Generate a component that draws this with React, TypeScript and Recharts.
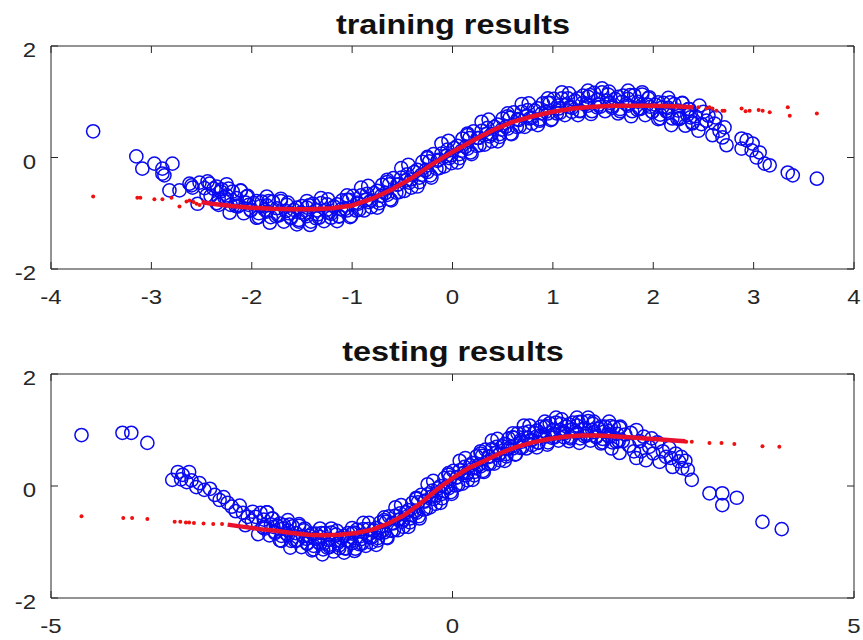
import React from 'react';
import { ScatterChart, Scatter, XAxis, YAxis } from 'recharts';

type Pt = [number, number];

const trainXTicks = [-4, -3, -2, -1, 0, 1, 2, 3, 4];
const testXTicks = [-5, 0, 5];
const yTicks = [-2, 0, 2];

const trainTitle = 'training results';
const testTitle = 'testing results';

// training: observed samples (blue rings), dense band
const trainObservedBand: Pt[] = [
  [-2.44,-0.43],[-2.41,-0.69],[-2.38,-0.56],[-2.35,-0.82],
  [-2.33,-0.85],[-2.30,-0.57],[-2.27,-0.72],[-2.25,-0.48],
  [-2.25,-0.68],[-2.22,-0.99],[-2.19,-0.61],[-2.16,-0.87],
  [-2.14,-0.88],[-2.11,-0.59],[-2.08,-1.00],[-2.06,-0.81],
  [-2.04,-0.69],[-2.01,-0.95],[-1.98,-0.82],[-1.95,-1.08],
  [-1.93,-1.07],[-1.90,-0.79],[-1.87,-0.94],[-1.85,-0.70],
  [-1.85,-0.86],[-1.82,-1.17],[-1.79,-0.79],[-1.76,-1.05],
  [-1.74,-1.03],[-1.71,-0.74],[-1.68,-1.15],[-1.66,-0.96],
  [-1.64,-0.81],[-1.61,-1.07],[-1.58,-0.94],[-1.55,-1.20],
  [-1.53,-1.15],[-1.50,-0.87],[-1.47,-1.02],[-1.45,-0.78],
  [-1.45,-0.90],[-1.42,-1.21],[-1.39,-0.83],[-1.36,-1.09],
  [-1.34,-1.02],[-1.31,-0.73],[-1.28,-1.14],[-1.26,-0.95],
  [-1.24,-0.75],[-1.21,-1.01],[-1.18,-0.88],[-1.15,-1.14],
  [-1.13,-1.05],[-1.10,-0.77],[-1.07,-0.92],[-1.05,-0.68],
  [-1.05,-0.76],[-1.02,-1.07],[-0.99,-0.69],[-0.96,-0.95],
  [-0.94,-0.83],[-0.91,-0.54],[-0.88,-0.95],[-0.86,-0.76],
  [-0.84,-0.51],[-0.81,-0.77],[-0.78,-0.64],[-0.75,-0.90],
  [-0.73,-0.77],[-0.70,-0.49],[-0.67,-0.64],[-0.65,-0.40],
  [-0.65,-0.44],[-0.62,-0.75],[-0.59,-0.37],[-0.56,-0.63],
  [-0.54,-0.48],[-0.51,-0.19],[-0.48,-0.60],[-0.46,-0.41],
  [-0.44,-0.13],[-0.41,-0.39],[-0.38,-0.26],[-0.35,-0.52],
  [-0.33,-0.36],[-0.30,-0.08],[-0.27,-0.23],[-0.25,0.01],
  [-0.25,-0.01],[-0.22,-0.32],[-0.19,0.06],[-0.16,-0.20],
  [-0.14,-0.04],[-0.11,0.25],[-0.08,-0.16],[-0.06,0.03],
  [-0.04,0.30],[-0.01,0.04],[0.02,0.17],[0.05,-0.09],
  [0.07,0.06],[0.10,0.34],[0.13,0.19],[0.15,0.43],
  [0.15,0.40],[0.18,0.09],[0.21,0.47],[0.24,0.21],
  [0.26,0.35],[0.29,0.64],[0.32,0.23],[0.34,0.42],
  [0.36,0.68],[0.39,0.42],[0.42,0.55],[0.45,0.29],
  [0.47,0.42],[0.50,0.70],[0.53,0.55],[0.55,0.79],
  [0.55,0.74],[0.58,0.43],[0.61,0.81],[0.64,0.55],
  [0.66,0.67],[0.69,0.96],[0.72,0.55],[0.74,0.74],
  [0.76,0.97],[0.79,0.71],[0.82,0.84],[0.85,0.58],
  [0.87,0.69],[0.90,0.97],[0.93,0.82],[0.95,1.06],
  [0.95,0.98],[0.98,0.67],[1.01,1.05],[1.04,0.79],
  [1.06,0.88],[1.09,1.17],[1.12,0.76],[1.14,0.95],
  [1.16,1.15],[1.19,0.89],[1.22,1.02],[1.25,0.76],
  [1.27,0.83],[1.30,1.11],[1.33,0.96],[1.35,1.20],
  [1.35,1.09],[1.38,0.78],[1.41,1.16],[1.44,0.90],
  [1.46,0.95],[1.49,1.24],[1.52,0.83],[1.54,1.02],
  [1.56,1.18],[1.59,0.92],[1.62,1.05],[1.65,0.79],
  [1.67,0.83],[1.70,1.11],[1.73,0.96],[1.75,1.20],
  [1.75,1.05],[1.78,0.74],[1.81,1.12],[1.84,0.86],
  [1.86,0.88],[1.89,1.17],[1.92,0.76],[1.94,0.95],
  [1.96,1.08],[1.99,0.82],[2.02,0.95],[2.05,0.69],
  [2.07,0.70],[2.10,0.98],[2.13,0.83],[2.15,1.07],
  [2.15,0.89],[2.18,0.58],[2.21,0.96],[2.24,0.70],
  [2.26,0.69],[2.29,0.98],[2.32,0.57],[2.34,0.76],
  [2.36,0.87],[2.39,0.61],[2.42,0.74],[2.45,0.48],
];

// training: more observed samples inside the band
const trainObservedCore: Pt[] = [
  [-2.35,-0.52],[-2.33,-0.74],[-2.31,-0.61],[-2.25,-0.75],[-2.23,-0.56],[-2.21,-0.85],
  [-2.15,-0.73],[-2.13,-0.86],[-2.11,-0.60],[-2.05,-0.70],[-2.03,-0.85],[-2.01,-0.94],
  [-1.95,-0.78],[-1.93,-1.00],[-1.91,-0.87],[-1.85,-0.97],[-1.83,-0.78],[-1.81,-1.07],
  [-1.75,-0.91],[-1.73,-1.04],[-1.71,-0.78],[-1.65,-0.85],[-1.63,-1.00],[-1.61,-1.09],
  [-1.55,-0.90],[-1.53,-1.12],[-1.51,-0.99],[-1.45,-1.05],[-1.43,-0.86],[-1.41,-1.15],
  [-1.35,-0.95],[-1.33,-1.08],[-1.31,-0.82],[-1.25,-0.84],[-1.23,-0.99],[-1.21,-1.08],
  [-1.15,-0.84],[-1.13,-1.06],[-1.11,-0.93],[-1.05,-0.95],[-1.03,-0.76],[-1.01,-1.05],
  [-0.95,-0.81],[-0.93,-0.94],[-0.91,-0.68],[-0.85,-0.65],[-0.83,-0.80],[-0.81,-0.89],
  [-0.75,-0.60],[-0.73,-0.82],[-0.71,-0.69],[-0.65,-0.67],[-0.63,-0.48],[-0.61,-0.77],
  [-0.55,-0.49],[-0.53,-0.62],[-0.51,-0.36],[-0.45,-0.30],[-0.43,-0.45],[-0.41,-0.54],
  [-0.35,-0.22],[-0.33,-0.44],[-0.31,-0.31],[-0.25,-0.26],[-0.23,-0.07],[-0.21,-0.36],
  [-0.15,-0.06],[-0.13,-0.19],[-0.11,0.07],[-0.05,0.14],[-0.03,-0.01],[-0.01,-0.10],
  [0.05,0.21],[0.07,-0.01],[0.09,0.12],[0.15,0.16],[0.17,0.35],[0.19,0.06],
  [0.25,0.35],[0.27,0.22],[0.29,0.48],[0.35,0.53],[0.37,0.38],[0.39,0.29],
  [0.45,0.59],[0.47,0.37],[0.49,0.50],[0.55,0.52],[0.57,0.71],[0.59,0.42],
  [0.65,0.69],[0.67,0.56],[0.69,0.82],[0.75,0.85],[0.77,0.70],[0.79,0.61],
  [0.85,0.88],[0.87,0.66],[0.89,0.79],[0.95,0.79],[0.97,0.98],[0.99,0.69],
  [1.05,0.93],[1.07,0.80],[1.09,1.06],[1.15,1.06],[1.17,0.91],[1.19,0.82],
  [1.25,1.06],[1.27,0.84],[1.29,0.97],[1.35,0.93],[1.37,1.12],[1.39,0.83],
  [1.45,1.04],[1.47,0.91],[1.49,1.17],[1.55,1.13],[1.57,0.98],[1.59,0.89],
  [1.65,1.09],[1.67,0.87],[1.69,1.00],[1.75,0.93],[1.77,1.12],[1.79,0.83],
  [1.85,1.00],[1.87,0.87],[1.89,1.13],[1.95,1.06],[1.97,0.91],[1.99,0.82],
  [2.05,0.99],[2.07,0.77],[2.09,0.90],[2.15,0.80],[2.17,0.99],[2.19,0.70],
  [2.25,0.84],[2.27,0.71],[2.29,0.97],[2.35,0.87],[2.37,0.72],[2.39,0.63],
];

// training: observed samples at both ends
const trainObservedTails: Pt[] = [
  [-3.58,0.47],[-3.15,0.02],[-3.09,-0.20],[-2.97,-0.11],[-2.89,-0.20],[-2.89,-0.29],
  [-2.79,-0.11],[-2.87,-0.32],[-2.82,-0.59],[-2.72,-0.59],[-2.62,-0.47],[-2.59,-0.54],
  [-2.52,-0.45],[-2.42,-0.47],[-2.54,-0.83],[-2.60,-0.50],[-2.47,-0.55],[-2.45,-0.68],
  [2.46,0.93],[2.53,0.66],[2.61,0.61],[2.71,0.54],[2.59,0.40],[2.69,0.36],[2.73,0.22],
  [2.88,0.34],[2.93,0.31],[2.99,0.25],[2.98,0.13],[3.06,0.09],[3.11,-0.11],[3.16,-0.14],
  [3.34,-0.27],[3.39,-0.32],[3.63,-0.38],[2.88,0.16],[3.03,0.00],[2.50,0.82],[2.55,0.75],
  [2.48,0.60],[2.62,0.72],[2.66,0.48],
];

// training: network output, dense part and isolated dots
const trainPredictedCurve: Pt[] = [
  [-2.5,-0.80],[-2.4,-0.83],[-2.2,-0.87],[-2.0,-0.90],[-1.8,-0.92],[-1.6,-0.93],
  [-1.4,-0.93],[-1.2,-0.91],[-1.0,-0.86],[-0.8,-0.74],[-0.6,-0.57],[-0.4,-0.36],
  [-0.2,-0.12],[0.0,0.10],[0.2,0.30],[0.4,0.49],[0.6,0.64],[0.8,0.74],[1.0,0.82],
  [1.2,0.88],[1.4,0.91],[1.6,0.93],[1.8,0.93],[2.0,0.93],[2.2,0.92],[2.4,0.90],
];
const trainPredictedDots: Pt[] = [
  [-3.58,-0.70],[-3.14,-0.72],[-3.11,-0.72],[-2.97,-0.75],[-2.89,-0.75],[-2.80,-0.72],
  [-2.72,-0.88],[-2.65,-0.79],[-2.62,-0.77],[-2.58,-0.80],[-2.55,-0.83],[-2.52,-0.85],
  [2.45,0.90],[2.53,0.88],[2.56,0.90],[2.59,0.88],[2.63,0.84],[2.69,0.84],[2.71,0.84],
  [2.88,0.88],[2.92,0.83],[2.96,0.84],[3.05,0.85],[3.09,0.84],[3.16,0.81],[3.34,0.90],
  [3.36,0.75],[3.63,0.79],
];

// testing: observed samples, dense band
const testObservedBand: Pt[] = [
  [-2.45,-0.55],[-2.42,-0.86],[-2.39,-0.48],[-2.36,-0.74],
  [-2.34,-0.76],[-2.31,-0.47],[-2.28,-0.88],[-2.26,-0.69],
  [-2.24,-0.58],[-2.21,-0.84],[-2.18,-0.71],[-2.15,-0.97],
  [-2.13,-0.98],[-2.10,-0.70],[-2.07,-0.85],[-2.05,-0.61],
  [-2.05,-0.79],[-2.02,-1.10],[-1.99,-0.72],[-1.96,-0.98],
  [-1.94,-0.97],[-1.91,-0.68],[-1.88,-1.09],[-1.86,-0.90],
  [-1.84,-0.76],[-1.81,-1.02],[-1.78,-0.89],[-1.75,-1.15],
  [-1.73,-1.13],[-1.70,-0.85],[-1.67,-1.00],[-1.65,-0.76],
  [-1.65,-0.91],[-1.62,-1.22],[-1.59,-0.84],[-1.56,-1.10],
  [-1.54,-1.05],[-1.51,-0.76],[-1.48,-1.17],[-1.46,-0.98],
  [-1.44,-0.80],[-1.41,-1.06],[-1.38,-0.93],[-1.35,-1.19],
  [-1.33,-1.12],[-1.30,-0.84],[-1.27,-0.99],[-1.25,-0.75],
  [-1.25,-0.85],[-1.22,-1.16],[-1.19,-0.78],[-1.16,-1.04],
  [-1.14,-0.95],[-1.11,-0.66],[-1.08,-1.07],[-1.06,-0.88],
  [-1.04,-0.66],[-1.01,-0.92],[-0.98,-0.79],[-0.95,-1.05],
  [-0.93,-0.93],[-0.90,-0.65],[-0.87,-0.80],[-0.85,-0.56],
  [-0.85,-0.61],[-0.82,-0.92],[-0.79,-0.54],[-0.76,-0.80],
  [-0.74,-0.67],[-0.71,-0.38],[-0.68,-0.79],[-0.66,-0.60],
  [-0.64,-0.34],[-0.61,-0.60],[-0.58,-0.47],[-0.55,-0.73],
  [-0.53,-0.58],[-0.50,-0.30],[-0.47,-0.45],[-0.45,-0.21],
  [-0.45,-0.23],[-0.42,-0.54],[-0.39,-0.16],[-0.36,-0.42],
  [-0.34,-0.26],[-0.31,0.03],[-0.28,-0.38],[-0.26,-0.19],
  [-0.24,0.09],[-0.21,-0.17],[-0.18,-0.04],[-0.15,-0.30],
  [-0.13,-0.14],[-0.10,0.14],[-0.07,-0.01],[-0.05,0.23],
  [-0.05,0.20],[-0.02,-0.11],[0.01,0.27],[0.04,0.01],
  [0.06,0.16],[0.09,0.45],[0.12,0.04],[0.14,0.23],
  [0.16,0.50],[0.19,0.24],[0.22,0.37],[0.25,0.11],
  [0.27,0.25],[0.30,0.53],[0.33,0.38],[0.35,0.62],
  [0.35,0.58],[0.38,0.27],[0.41,0.65],[0.44,0.39],
  [0.46,0.52],[0.49,0.81],[0.52,0.40],[0.54,0.59],
  [0.56,0.84],[0.59,0.58],[0.62,0.71],[0.65,0.45],
  [0.67,0.57],[0.70,0.85],[0.73,0.70],[0.75,0.94],
  [0.75,0.87],[0.78,0.56],[0.81,0.94],[0.84,0.68],
  [0.86,0.79],[0.89,1.08],[0.92,0.67],[0.94,0.86],
  [0.96,1.08],[0.99,0.82],[1.02,0.95],[1.05,0.69],
  [1.07,0.78],[1.10,1.06],[1.13,0.91],[1.15,1.15],
  [1.15,1.05],[1.18,0.74],[1.21,1.12],[1.24,0.86],
  [1.26,0.93],[1.29,1.22],[1.32,0.81],[1.34,1.00],
  [1.36,1.19],[1.39,0.93],[1.42,1.06],[1.45,0.80],
  [1.47,0.85],[1.50,1.13],[1.53,0.98],[1.55,1.22],
  [1.55,1.08],[1.58,0.77],[1.61,1.15],[1.64,0.89],
  [1.66,0.93],[1.69,1.22],[1.72,0.81],[1.74,1.00],
  [1.76,1.15],[1.79,0.89],[1.82,1.02],[1.85,0.76],
  [1.87,0.78],[1.90,1.06],[1.93,0.91],[1.95,1.15],
  [1.95,0.98],[1.98,0.67],[2.01,1.05],[2.04,0.79],
];

// testing: more observed samples inside the band
const testObservedCore: Pt[] = [
  [-2.35,-0.60],[-2.33,-0.73],[-2.31,-0.47],[-2.25,-0.58],[-2.23,-0.73],[-2.21,-0.82],
  [-2.15,-0.67],[-2.13,-0.89],[-2.11,-0.76],[-2.05,-0.88],[-2.03,-0.69],[-2.01,-0.98],
  [-1.95,-0.84],[-1.93,-0.97],[-1.91,-0.71],[-1.85,-0.79],[-1.83,-0.94],[-1.81,-1.03],
  [-1.75,-0.85],[-1.73,-1.07],[-1.71,-0.94],[-1.65,-1.03],[-1.63,-0.84],[-1.61,-1.13],
  [-1.55,-0.96],[-1.53,-1.09],[-1.51,-0.83],[-1.45,-0.87],[-1.43,-1.02],[-1.41,-1.11],
  [-1.35,-0.89],[-1.33,-1.11],[-1.31,-0.98],[-1.25,-1.02],[-1.23,-0.83],[-1.21,-1.12],
  [-1.15,-0.90],[-1.13,-1.03],[-1.11,-0.77],[-1.05,-0.77],[-1.03,-0.92],[-1.01,-1.01],
  [-0.95,-0.75],[-0.93,-0.97],[-0.91,-0.84],[-0.85,-0.83],[-0.83,-0.64],[-0.81,-0.93],
  [-0.75,-0.66],[-0.73,-0.79],[-0.71,-0.53],[-0.65,-0.49],[-0.63,-0.64],[-0.61,-0.73],
  [-0.55,-0.43],[-0.53,-0.65],[-0.51,-0.52],[-0.45,-0.48],[-0.43,-0.29],[-0.41,-0.58],
  [-0.35,-0.28],[-0.33,-0.41],[-0.31,-0.15],[-0.25,-0.08],[-0.23,-0.23],[-0.21,-0.32],
  [-0.15,0.00],[-0.13,-0.22],[-0.11,-0.09],[-0.05,-0.04],[-0.03,0.15],[-0.01,-0.14],
  [0.05,0.15],[0.07,0.02],[0.09,0.28],[0.15,0.34],[0.17,0.19],[0.19,0.10],
  [0.25,0.41],[0.27,0.19],[0.29,0.32],[0.35,0.35],[0.37,0.54],[0.39,0.25],
  [0.45,0.53],[0.47,0.40],[0.49,0.66],[0.55,0.70],[0.57,0.55],[0.59,0.46],
  [0.65,0.75],[0.67,0.53],[0.69,0.66],[0.75,0.67],[0.77,0.86],[0.79,0.57],
  [0.85,0.82],[0.87,0.69],[0.89,0.95],[0.95,0.97],[0.97,0.82],[0.99,0.73],
  [1.05,0.99],[1.07,0.77],[1.09,0.90],[1.15,0.88],[1.17,1.07],[1.19,0.78],
  [1.25,1.00],[1.27,0.87],[1.29,1.13],[1.35,1.11],[1.37,0.96],[1.39,0.87],
  [1.45,1.10],[1.47,0.88],[1.49,1.01],[1.55,0.95],[1.57,1.14],[1.59,0.85],
  [1.65,1.03],[1.67,0.90],[1.69,1.16],[1.75,1.11],[1.77,0.96],[1.79,0.87],
  [1.85,1.06],[1.87,0.84],[1.89,0.97],[1.95,0.88],[1.97,1.07],[1.99,0.78],
  [2.05,0.93],[2.07,0.80],[2.09,1.06],
];

// testing: observed samples at both ends
const testObservedTails: Pt[] = [
  [-4.62,0.91],[-4.11,0.95],[-4.00,0.95],[-3.80,0.77],[-3.49,0.11],[-3.42,0.25],[-3.38,0.12],
  [-3.36,0.20],[-3.31,0.07],[-3.28,0.25],[-3.25,0.10],[-3.19,-0.02],[-3.15,0.05],[-3.09,-0.07],
  [-3.02,-0.05],[-2.96,-0.16],[-2.90,-0.25],[-2.85,-0.20],[-2.80,-0.30],[-2.75,-0.37],
  [-2.70,-0.45],[-2.65,-0.35],[-2.61,-0.48],[-2.58,-0.70],[-2.55,-0.55],[-2.50,-0.62],[-2.49,-0.46],
  [2.08,0.59],[2.08,1.04],[2.12,0.80],[2.15,0.92],[2.20,0.72],[2.22,0.95],[2.26,0.62],[2.29,0.50],
  [2.29,1.00],[2.33,0.80],[2.35,0.62],[2.38,0.88],[2.41,0.46],[2.45,0.70],[2.48,0.85],[2.50,0.58],
  [2.55,0.78],[2.58,0.43],[2.62,0.62],[2.66,0.52],[2.70,0.68],[2.72,0.50],[2.74,0.34],[2.78,0.58],
  [2.82,0.44],[2.85,0.52],[2.86,0.32],[2.90,0.45],[2.93,0.29],[2.98,0.11],[3.20,-0.13],[3.36,-0.13],
  [3.54,-0.21],[3.36,-0.34],[3.86,-0.64],[4.10,-0.77],
];

// testing: network output
const testPredictedCurve: Pt[] = [
  [-2.8,-0.69],[-2.6,-0.73],[-2.4,-0.77],[-2.2,-0.80],[-2.0,-0.84],[-1.8,-0.87],[-1.6,-0.88],
  [-1.4,-0.87],[-1.2,-0.84],[-1.0,-0.78],[-0.8,-0.67],[-0.6,-0.52],[-0.4,-0.31],[-0.2,-0.07],
  [0.0,0.14],[0.2,0.32],[0.4,0.45],[0.6,0.59],[0.8,0.70],[1.0,0.78],[1.2,0.84],[1.4,0.88],
  [1.6,0.90],[1.8,0.90],[2.0,0.89],[2.2,0.87],[2.4,0.85],[2.6,0.83],[2.8,0.81],[2.9,0.80],
];
const testPredictedDots: Pt[] = [
  [-4.62,-0.54],[-4.10,-0.57],[-3.99,-0.57],[-3.80,-0.59],[-3.46,-0.64],[-3.39,-0.64],
  [-3.32,-0.65],[-3.28,-0.65],[-3.22,-0.66],[-3.10,-0.67],[-2.98,-0.68],[-2.87,-0.68],
  [2.91,0.79],[2.98,0.79],[3.20,0.77],[3.35,0.77],[3.51,0.75],[3.86,0.71],[4.07,0.70],
];

const FONT = '"Liberation Sans", Arial, Helvetica, sans-serif';
const AXIS = '#262626';
const SX = 1.2;
const TICK = 7;

const toPts = (a: Pt[]) => a.map(([x, y]) => ({ x, y }));

const BottomTick = (props: any) => {
  const { x, y, payload } = props;
  return (
    <g transform={`translate(${x},${y})`}>
      <line x1={0} y1={0} x2={0} y2={-TICK} stroke={AXIS} strokeWidth={1} />
      <text transform={`scale(${SX},1)`} textAnchor="middle" y={35} fontFamily={FONT} fontSize={20} fill={AXIS}>
        {payload.value}
      </text>
    </g>
  );
};

const TopTick = (props: any) => {
  const { x, y } = props;
  return <line x1={x} y1={y} x2={x} y2={y + TICK} stroke={AXIS} strokeWidth={1} />;
};

const LeftTick = (props: any) => {
  const { x, y, payload } = props;
  return (
    <g transform={`translate(${x},${y})`}>
      <line x1={0} y1={0} x2={TICK} y2={0} stroke={AXIS} strokeWidth={1} />
      <g transform="translate(-15,0)">
        <text transform={`scale(${SX},1)`} textAnchor="end" y={11} fontFamily={FONT} fontSize={20} fill={AXIS}>
          {payload.value}
        </text>
      </g>
    </g>
  );
};

const RightTick = (props: any) => {
  const { x, y } = props;
  return <line x1={x} y1={y} x2={x - TICK} y2={y} stroke={AXIS} strokeWidth={1} />;
};

const Ring = (p: any) => (
  <circle cx={p.cx} cy={p.cy} r={6.6} fill="none" stroke="#0a0af0" strokeWidth={1.5} />
);
const RedDot = (p: any) => <circle cx={p.cx} cy={p.cy} r={2} fill="#ee1111" />;
const NoShape = () => <g />;

type PanelProps = {
  top: number;
  plotTop: number;
  plotBottomGap: number;
  xDomain: [number, number];
  xTicks: number[];
  band: Pt[];
  core: Pt[];
  tails: Pt[];
  curve: Pt[];
  dots: Pt[];
};

function Panel({ top, plotTop, plotBottomGap, xDomain, xTicks, band, core, tails, curve, dots }: PanelProps) {
  return (
    <div style={{ position: 'absolute', left: 0, top, width: 863, height: 320 }}>
      <ScatterChart width={863} height={320} margin={{ top: plotTop - 1, right: 8, bottom: plotBottomGap, left: 0 }}>
        <XAxis
          xAxisId="b" type="number" dataKey="x" domain={xDomain} ticks={xTicks} interval={0}
          allowDataOverflow tickSize={0} tickMargin={0} tickLine={false} tick={<BottomTick />} height={40}
          axisLine={{ stroke: AXIS }}
        />
        <XAxis
          xAxisId="t" orientation="top" type="number" dataKey="x" domain={xDomain} ticks={xTicks}
          interval={0} allowDataOverflow tickSize={0} tickMargin={0} tickLine={false} tick={<TopTick />} height={1}
          axisLine={{ stroke: AXIS }}
        />
        <YAxis
          yAxisId="l" type="number" dataKey="y" domain={[-2, 2]} ticks={yTicks} interval={0}
          allowDataOverflow tickSize={0} tickMargin={0} tickLine={false} tick={<LeftTick />} width={51}
          axisLine={{ stroke: AXIS }}
        />
        <YAxis
          yAxisId="r" orientation="right" type="number" dataKey="y" domain={[-2, 2]} ticks={yTicks}
          interval={0} allowDataOverflow tickSize={0} tickMargin={0} tickLine={false} tick={<RightTick />} width={1}
          axisLine={{ stroke: AXIS }}
        />
        <Scatter xAxisId="b" yAxisId="l" data={toPts(band)} shape={Ring} isAnimationActive={false} />
        <Scatter xAxisId="b" yAxisId="l" data={toPts(core)} shape={Ring} isAnimationActive={false} />
        <Scatter xAxisId="b" yAxisId="l" data={toPts(tails)} shape={Ring} isAnimationActive={false} />
        <Scatter
          xAxisId="b" yAxisId="l" data={toPts(curve)} shape={NoShape} isAnimationActive={false}
          line={{ stroke: '#e8102c', strokeWidth: 4.5 }} lineType="joint"
        />
        <Scatter xAxisId="b" yAxisId="l" data={toPts(dots)} shape={RedDot} isAnimationActive={false} />
      </ScatterChart>
    </div>
  );
}

const titleStyle = (top: number): React.CSSProperties => ({
  position: 'absolute',
  left: 453,
  top,
  transform: 'translateX(-50%) scaleX(1.2)',
  fontFamily: FONT,
  fontWeight: 'bold',
  fontSize: 27,
  lineHeight: '27px',
  whiteSpace: 'nowrap',
  color: '#111',
});

export default function App() {
  return (
    <div style={{ position: 'absolute', left: 0, top: 0, width: 863, height: 640, background: '#fff', overflow: 'hidden' }}>
      <Panel
        top={0} plotTop={46} plotBottomGap={11} xDomain={[-4, 4]} xTicks={trainXTicks}
        band={trainObservedBand} core={trainObservedCore} tails={trainObservedTails}
        curve={trainPredictedCurve} dots={trainPredictedDots}
      />
      <Panel
        top={320} plotTop={54} plotBottomGap={2} xDomain={[-5, 5]} xTicks={testXTicks}
        band={testObservedBand} core={testObservedCore} tails={testObservedTails}
        curve={testPredictedCurve} dots={testPredictedDots}
      />
      <div style={titleStyle(12)}>{trainTitle}</div>
      <div style={titleStyle(339)}>{testTitle}</div>
    </div>
  );
}
